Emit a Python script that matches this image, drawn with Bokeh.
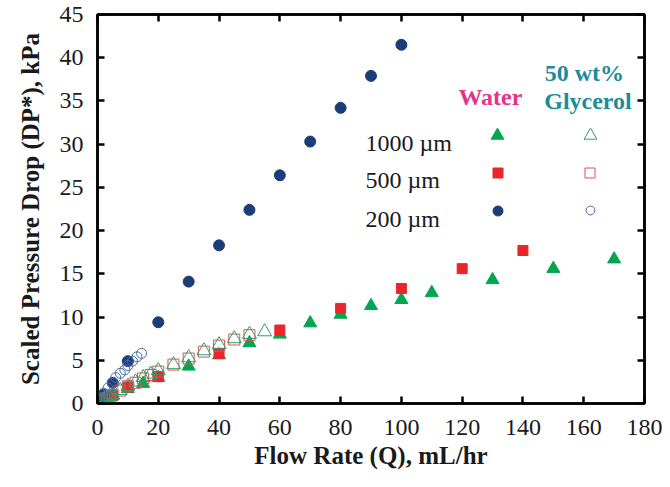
from bokeh.plotting import figure
from bokeh.models import Range1d, LinearAxis, FixedTicker, Legend, LegendItem, Label
from bokeh.embed import file_html
from bokeh.resources import INLINE

# ---------------- data ----------------
x_ticks = [0, 20, 40, 60, 80, 100, 120, 140, 160, 180]
y_ticks = [0, 5, 10, 15, 20, 25, 30, 35, 40, 45]

# Water
water_1000_q = [1, 2, 3, 5, 10, 15, 20, 30, 40, 50, 60, 70, 80, 90, 100, 110, 130, 150, 170]
water_1000_dp = [0.2, 0.35, 0.5, 0.9, 1.7, 2.3, 3.0, 4.3, 5.6, 7.0, 8.0, 9.3, 10.3, 11.3, 12.0, 12.8, 14.3, 15.6, 16.7]
water_500_q = [1, 2, 5, 10, 20, 40, 60, 80, 100, 120, 140]
water_500_dp = [0.2, 0.4, 0.9, 1.9, 3.1, 5.8, 8.5, 11.0, 13.3, 15.6, 17.7]
water_200_q = [1, 2, 5, 10, 20, 30, 40, 50, 60, 70, 80, 90, 100]
water_200_dp = [0.5, 1.0, 2.4, 4.9, 9.4, 14.1, 18.3, 22.4, 26.4, 30.3, 34.2, 37.9, 41.5]

# 50 wt% Glycerol
gly_1000_q = [1, 2, 3, 4, 5, 7.5, 10, 12.5, 15, 17.5, 20, 25, 30, 35, 40, 45, 50, 55]
gly_1000_dp = [0.2, 0.4, 0.6, 0.8, 1.0, 1.5, 2.0, 2.5, 3.0, 3.4, 3.8, 4.5, 5.3, 6.1, 6.8, 7.5, 8.0, 8.3]
gly_500_q = [1, 2, 3, 4, 5, 7.5, 10, 12.5, 15, 17.5, 20, 25, 30, 35, 40, 45, 50]
gly_500_dp = [0.2, 0.4, 0.6, 0.8, 1.0, 1.5, 2.0, 2.4, 2.9, 3.3, 3.7, 4.5, 5.2, 6.0, 6.7, 7.4, 7.9]
gly_200_q = [0.5, 1, 2, 3.5, 5, 6, 7.5, 9, 10, 11.5, 13, 14.5]
gly_200_dp = [0.3, 0.7, 1.2, 1.8, 2.4, 3.0, 3.5, 3.9, 4.4, 4.9, 5.4, 5.8]

size_labels = ["1000 \u00b5m", "500 \u00b5m", "200 \u00b5m"]

# ---------------- layout / styles ----------------
W, H = 662, 479
BL, BR, BT, BB = 97, 18, 14, 76
FRAME_W = W - BL - BR
FRAME_H = H - BT - BB
X_MAX, Y_MAX = 180, 45

FONT = "Liberation Serif"
GREEN = "#00a651"
RED = "#e8262b"
NAVY = "#1c3d78"
GREEN_O = "#2f9e70"
RED_O = "#d9534f"
BLUE_O = "#4a6aa8"
TXT = "#1a1a1a"

p = figure(width=W, height=H, x_range=Range1d(0, X_MAX), y_range=Range1d(0, Y_MAX),
           output_backend="svg", toolbar_location=None,
           min_border_left=BL, min_border_right=BR, min_border_top=BT, min_border_bottom=BB)
p.background_fill_color = "white"
p.border_fill_color = "white"
p.grid.visible = False
p.outline_line_color = "black"
p.outline_line_width = 2.5

p.xaxis.ticker = FixedTicker(ticks=x_ticks)
p.yaxis.ticker = FixedTicker(ticks=y_ticks)
p.xaxis.axis_label = "Flow Rate (Q), mL/hr"
p.yaxis.axis_label = "Scaled Pressure Drop (DP*), kPa"

for ax in (p.xaxis[0], p.yaxis[0]):
    ax.axis_line_width = 2.5
    ax.major_tick_line_width = 2.5
    ax.major_tick_in = 7
    ax.major_tick_out = 0
    ax.minor_tick_line_color = None
    ax.major_label_text_font = FONT
    ax.major_label_text_font_size = "24px"
    ax.major_label_text_color = TXT
    ax.axis_label_text_font = FONT
    ax.axis_label_text_font_style = "bold"
    ax.axis_label_text_font_size = "25px"
    ax.axis_label_text_color = TXT
p.xaxis.major_label_standoff = 16
p.xaxis.axis_label_standoff = 4
p.yaxis.major_label_standoff = 14
p.yaxis.axis_label_standoff = 13

for loc, tick in (("right", y_ticks), ("above", x_ticks)):
    ax = LinearAxis(ticker=FixedTicker(ticks=tick))
    ax.axis_line_width = 2.5
    ax.major_tick_line_width = 2.5
    ax.major_tick_in = 7
    ax.major_tick_out = 0
    ax.minor_tick_line_color = None
    ax.major_label_overrides = {t: "" for t in tick}
    ax.major_label_standoff = 0
    p.add_layout(ax, loc)

# ---------------- data marks ----------------
r_w1000 = p.scatter(water_1000_q, water_1000_dp, marker="triangle", size=13,
                    fill_color=GREEN, line_color=GREEN)
r_w500 = p.scatter(water_500_q, water_500_dp, marker="square", size=10,
                   fill_color=RED, line_color=RED)
r_w200 = p.scatter(water_200_q, water_200_dp, marker="circle", size=11,
                   fill_color=NAVY, line_color=NAVY)
r_g500 = p.scatter(gly_500_q, gly_500_dp, marker="square", size=11,
                   fill_color=None, line_color=RED_O, line_width=1)
r_g1000 = p.scatter(gly_1000_q, gly_1000_dp, marker="triangle", size=14,
                    fill_color=None, line_color=GREEN_O, line_width=1)
r_g200 = p.scatter(gly_200_q, gly_200_dp, marker="circle", size=10,
                   fill_color=None, line_color=BLUE_O, line_width=1)

# ---------------- legend (one swatch per entry, placed in the key grid) ----------------
def add_swatch(renderer, xd, yd, marker_size):
    g = int(round(marker_size / 0.4))
    vx = xd / X_MAX * FRAME_W - g / 2
    vy = yd / Y_MAX * FRAME_H - g / 2
    leg = Legend(items=[LegendItem(label=" ", renderers=[renderer])],
                 location=(vx, vy), orientation="vertical",
                 glyph_width=g, glyph_height=g, label_width=0, label_height=g,
                 label_standoff=0, spacing=0, padding=0, margin=0,
                 label_text_font_size="1px",
                 border_line_color=None, background_fill_alpha=0)
    p.add_layout(leg)

key_x_water, key_x_gly = 131.7, 162.1
key_rows = [31.0, 26.67, 22.3]
add_swatch(r_w1000, key_x_water, key_rows[0], 13)
add_swatch(r_w500, key_x_water, key_rows[1], 10)
add_swatch(r_w200, key_x_water, key_rows[2], 10)
add_swatch(r_g1000, key_x_gly, key_rows[0], 13)
add_swatch(r_g500, key_x_gly, key_rows[1], 10)
add_swatch(r_g200, key_x_gly, key_rows[2], 9)

for lab, yy in zip(size_labels, [30.08, 25.8, 21.4]):
    p.add_layout(Label(x=88.2, y=yy, text=lab, text_font=FONT, text_font_size="24px",
                       text_color=TXT, text_baseline="alphabetic", text_align="left"))

p.add_layout(Label(x=129.3, y=35.4, text="Water", text_font=FONT, text_font_size="24px",
                   text_font_style="bold", text_color="#e2358a",
                   text_baseline="alphabetic", text_align="center"))
p.add_layout(Label(x=160.2, y=38.29, text="50 wt%", text_font=FONT, text_font_size="24px",
                   text_font_style="bold", text_color="#1d8c9a",
                   text_baseline="alphabetic", text_align="center"))
p.add_layout(Label(x=161.4, y=34.94, text="Glycerol", text_font=FONT, text_font_size="24px",
                   text_font_style="bold", text_color="#1d8c9a",
                   text_baseline="alphabetic", text_align="center"))

open("out.html", "w").write(file_html(p, INLINE))
